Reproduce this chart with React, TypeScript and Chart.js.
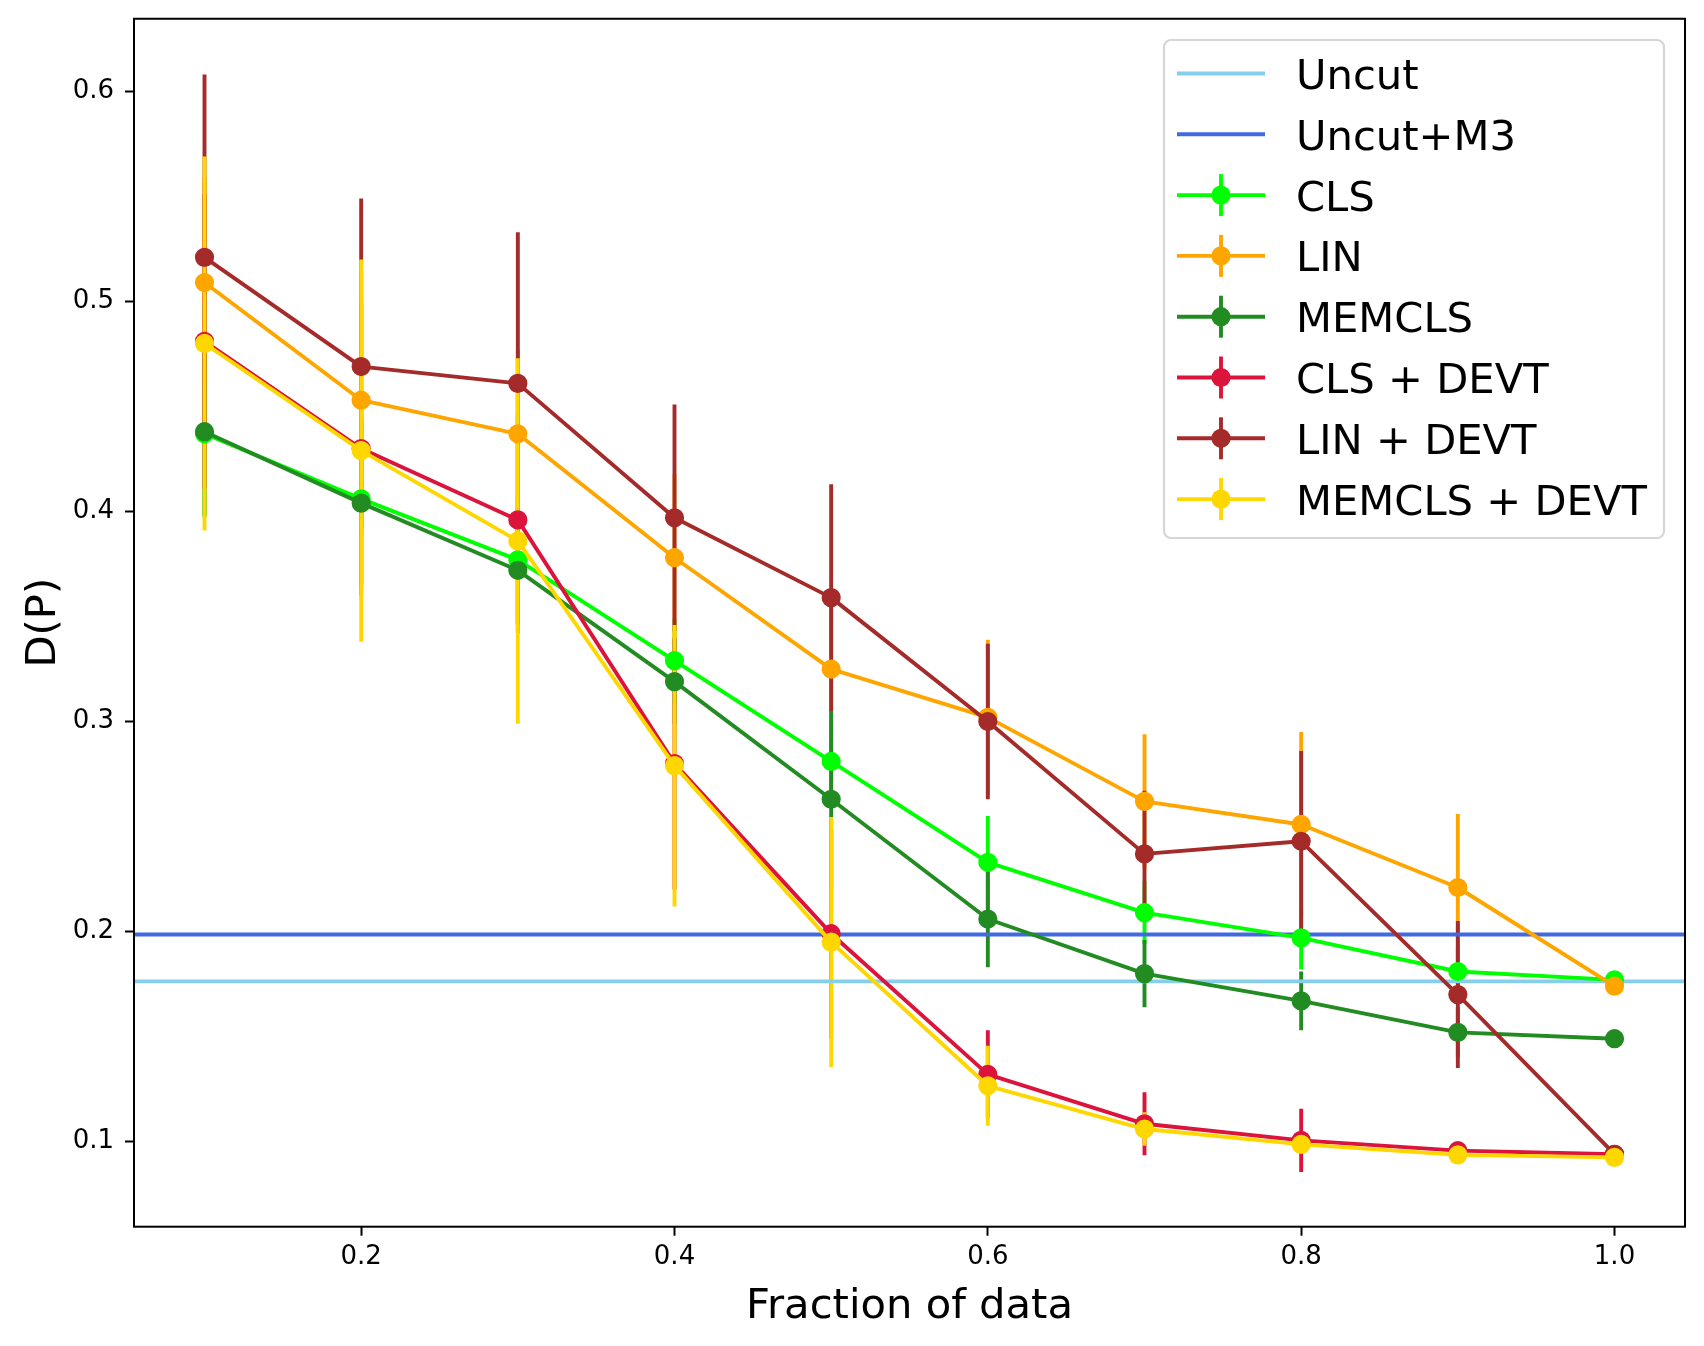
import React, { useEffect, useRef } from "react";
import { Chart, registerables } from "chart.js";

Chart.register(...registerables);

// x values (fraction of data)
const fractions = [0.1, 0.2, 0.3, 0.4, 0.5, 0.6, 0.7, 0.8, 0.9, 1.0];
const xTicks = [0.2, 0.4, 0.6, 0.8, 1.0];
const yTicks = [0.1, 0.2, 0.3, 0.4, 0.5, 0.6];
const X_MIN = 0.055;
const X_MAX = 1.045;
const Y_MIN = 0.0595;
const Y_MAX = 0.6346;

// reference lines
const uncutValue = 0.1763;
const uncutM3Value = 0.1986;

// series
const clsValues = [0.437, 0.406, 0.377, 0.329, 0.281, 0.233, 0.209, 0.197, 0.181, 0.177];
const clsErrors = [0.04, 0.04, 0.03, 0.02, 0.02, 0.022, 0.015, 0.015, 0.012, 0];
const linValues = [0.509, 0.453, 0.437, 0.378, 0.325, 0.302, 0.262, 0.251, 0.221, 0.174];
const linErrors = [0.05, 0.06, 0.04, 0.04, 0.03, 0.037, 0.032, 0.044, 0.035, 0];
const memclsValues = [0.438, 0.404, 0.372, 0.319, 0.263, 0.206, 0.18, 0.167, 0.152, 0.149];
const memclsErrors = [0.04, 0.04, 0.03, 0.02, 0.042, 0.023, 0.016, 0.014, 0.012, 0];
const clsDevtValues = [0.481, 0.43, 0.396, 0.28, 0.199, 0.132, 0.1085, 0.1006, 0.0957, 0.094];
const clsDevtErrors = [0.07, 0.07, 0.05, 0.06, 0.05, 0.021, 0.015, 0.015, 0, 0];
const linDevtValues = [0.521, 0.469, 0.461, 0.397, 0.359, 0.3, 0.237, 0.243, 0.17, 0.094];
const linDevtErrors = [0.087, 0.08, 0.072, 0.054, 0.054, 0.037, 0.03, 0.043, 0.035, 0];
const memclsDevtValues = [0.48, 0.429, 0.386, 0.279, 0.195, 0.1266, 0.106, 0.0987, 0.0937, 0.0925];
const memclsDevtErrors = [0.089, 0.091, 0.087, 0.067, 0.0595, 0.019, 0.008, 0.004, 0, 0];

const seriesLabels = ["CLS", "LIN", "MEMCLS", "CLS + DEVT", "LIN + DEVT", "MEMCLS + DEVT"];
const seriesColors = ["#00ff00", "#ffa500", "#228b22", "#dc143c", "#a52a2a", "#ffd700"];
const seriesValues = [clsValues, linValues, memclsValues, clsDevtValues, linDevtValues, memclsDevtValues];
const seriesErrors = [clsErrors, linErrors, memclsErrors, clsDevtErrors, linDevtErrors, memclsDevtErrors];

const lineLabels = ["Uncut", "Uncut+M3"];
const lineColors = ["#87ceeb", "#4169e1"];
const lineValues = [uncutValue, uncutM3Value];

const FONT = "'DejaVu Sans', sans-serif";
const BIG = 41.7;
const LW = 3.9;

// error bars go under every line (matplotlib puts them at a lower zorder)
const errorBarPlugin = {
  id: "errorBars",
  beforeDatasetsDraw(chart: any) {
    const { ctx, chartArea, scales } = chart;
    const x = scales.x;
    const y = scales.y;
    ctx.save();
    ctx.beginPath();
    ctx.rect(chartArea.left, chartArea.top, chartArea.right - chartArea.left, chartArea.bottom - chartArea.top);
    ctx.clip();
    ctx.lineWidth = LW;
    ctx.lineCap = "butt";
    seriesValues.forEach((vals, s) => {
      ctx.strokeStyle = seriesColors[s];
      vals.forEach((v, i) => {
        const e = seriesErrors[s][i];
        if (!e) return;
        const px = x.getPixelForValue(fractions[i]);
        ctx.beginPath();
        ctx.moveTo(px, y.getPixelForValue(v - e));
        ctx.lineTo(px, y.getPixelForValue(v + e));
        ctx.stroke();
      });
    });
    ctx.restore();
  },
};

// spines + legend box
const framePlugin = {
  id: "frame",
  afterDraw(chart: any) {
    const { ctx, chartArea } = chart;
    ctx.save();
    ctx.strokeStyle = "#000";
    ctx.lineWidth = 2;
    ctx.strokeRect(chartArea.left, chartArea.top, chartArea.right - chartArea.left, chartArea.bottom - chartArea.top);

    // legend
    const bx = 1164;
    const by = 40;
    const bw = 500;
    const bh = 498;
    ctx.beginPath();
    ctx.roundRect(bx, by, bw, bh, 7);
    ctx.fillStyle = "rgba(255,255,255,0.8)";
    ctx.fill();
    ctx.strokeStyle = "rgba(204,204,204,0.8)";
    ctx.lineWidth = 2.2;
    ctx.stroke();

    const labels = [...lineLabels, ...seriesLabels];
    const colors = [...lineColors, ...seriesColors];
    const x0 = 1177;
    const x1 = 1265;
    const xc = (x0 + x1) / 2;
    const rowY0 = 73.5;
    const rowStep = 60.8;
    ctx.font = `${BIG}px ${FONT}`;
    ctx.textBaseline = "alphabetic";
    ctx.textAlign = "left";
    labels.forEach((label, i) => {
      const ry = rowY0 + i * rowStep;
      ctx.strokeStyle = colors[i];
      ctx.lineWidth = LW;
      ctx.lineCap = "butt";
      if (i >= lineLabels.length) {
        ctx.beginPath();
        ctx.moveTo(xc, ry - 21);
        ctx.lineTo(xc, ry + 21);
        ctx.stroke();
      }
      ctx.beginPath();
      ctx.moveTo(x0, ry);
      ctx.lineTo(x1, ry);
      ctx.stroke();
      if (i >= lineLabels.length) {
        ctx.beginPath();
        ctx.arc(xc, ry, 9.6, 0, Math.PI * 2);
        ctx.fillStyle = colors[i];
        ctx.fill();
      }
      ctx.fillStyle = "#000";
      ctx.fillText(label, 1296, ry + 15.5);
    });
    ctx.restore();
  },
};

export default function App() {
  const canvasRef = useRef<HTMLCanvasElement>(null);

  useEffect(() => {
    if (!canvasRef.current) return;

    const hLines = lineValues.map((v, i) => ({
      label: lineLabels[i],
      data: [
        { x: X_MIN, y: v },
        { x: X_MAX, y: v },
      ],
      borderColor: lineColors[i],
      backgroundColor: lineColors[i],
      borderWidth: LW,
      pointRadius: 0,
      order: 10 - i,
    }));

    const series = seriesValues.map((vals, s) => ({
      label: seriesLabels[s],
      data: vals.map((v, i) => ({ x: fractions[i], y: v })),
      borderColor: seriesColors[s],
      backgroundColor: seriesColors[s],
      pointBackgroundColor: seriesColors[s],
      pointBorderColor: seriesColors[s],
      borderWidth: LW,
      pointRadius: 8.4,
      pointBorderWidth: 2.4,
      borderJoinStyle: "round" as const,
      tension: 0,
      order: 10 - (s + lineLabels.length),
    }));

    const chart = new Chart(canvasRef.current, {
      type: "line",
      data: { datasets: [...hLines, ...series] as any },
      options: {
        animation: false,
        responsive: false,
        devicePixelRatio: 1,
        layout: { padding: { top: 18.75, right: 19, left: 0, bottom: 0 } },
        plugins: {
          legend: { display: false },
          tooltip: { enabled: false },
        },
        scales: {
          x: {
            type: "linear",
            min: X_MIN,
            max: X_MAX,
            afterBuildTicks: (scale: any) => {
              scale.ticks = xTicks.map((v) => ({ value: v }));
            },
            afterFit: (scale: any) => {
              scale.height = 119.3;
              scale.paddingLeft = 0;
              scale.paddingRight = 0;
            },
            grid: {
              display: true,
              drawOnChartArea: false,
              drawTicks: true,
              tickLength: 9,
              tickWidth: 2,
              tickColor: "#000",
            },
            border: { display: false },
            ticks: {
              color: "#000",
              font: { family: FONT, size: 26 },
              padding: 6,
              maxRotation: 0,
              autoSkip: false,
              callback: (v: any) => Number(v).toFixed(1),
            },
            title: {
              display: true,
              text: "Fraction of data",
              color: "#000",
              font: { family: FONT, size: BIG },
              padding: { top: 0, bottom: 14 },
            },
          },
          y: {
            type: "linear",
            min: Y_MIN,
            max: Y_MAX,
            afterBuildTicks: (scale: any) => {
              scale.ticks = yTicks.map((v) => ({ value: v }));
            },
            afterFit: (scale: any) => {
              scale.width = 134;
              scale.paddingTop = 0;
              scale.paddingBottom = 0;
            },
            grid: {
              display: true,
              drawOnChartArea: false,
              drawTicks: true,
              tickLength: 9,
              tickWidth: 2,
              tickColor: "#000",
            },
            border: { display: false },
            ticks: {
              color: "#000",
              font: { family: FONT, size: 26 },
              padding: 11,
              autoSkip: false,
              callback: (v: any) => Number(v).toFixed(1),
            },
            title: {
              display: true,
              text: "D(P)",
              color: "#000",
              font: { family: FONT, size: BIG },
              padding: { top: 19, bottom: 0 },
            },
          },
        },
      },
      plugins: [errorBarPlugin, framePlugin],
    });

    return () => chart.destroy();
  }, []);

  return (
    <div
      style={{
        position: "absolute",
        left: 0,
        top: 0,
        width: 1704,
        height: 1346,
        background: "#fff",
      }}
    >
      <canvas
        ref={canvasRef}
        width={1704}
        height={1346}
        style={{ width: 1704, height: 1346, display: "block" }}
      />
    </div>
  );
}
